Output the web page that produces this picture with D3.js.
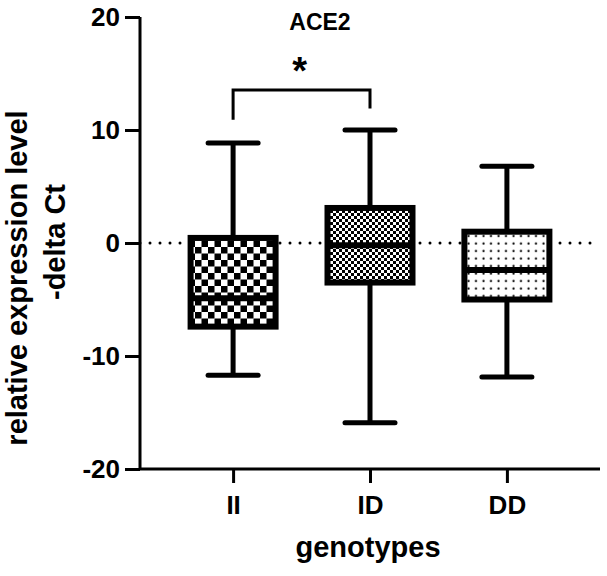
<!DOCTYPE html>
<html>
<head>
<meta charset="utf-8">
<script src="https://cdn.jsdelivr.net/npm/d3@7"></script>
<style>
  body { margin: 0; background: #fff; }
  svg { display: block; font-family: "Liberation Sans", Arial, sans-serif; font-weight: bold; }
</style>
</head>
<body>
<div id="chart"></div>
<script>
// data
const genotypes = ["II", "ID", "DD"];
const whiskerMax = [8.85, 10.0, 6.8];
const upperQ = [0.45, 3.1, 1.0];
const medians = [-4.9, -0.2, -2.4];
const lowerQ = [-7.4, -3.5, -5.0];
const whiskerMin = [-11.7, -15.9, -11.85];
const yTicks = [-20, -10, 0, 10, 20];
const patterns = ["checkBig", "checkSmall", "dots"];

const width = 607, height = 576;
const svg = d3.select("#chart").append("svg")
  .attr("width", width)
  .attr("height", height);

const x = d3.scalePoint().domain(genotypes).range([140, 600]).padding(0.68);
const y = d3.scaleLinear().domain([-20, 20]).range([469, 17]);

// fill patterns
const defs = svg.append("defs");
const p1 = defs.append("pattern").attr("id", "checkBig")
  .attr("patternUnits", "userSpaceOnUse").attr("width", 13).attr("height", 13);
p1.append("rect").attr("width", 13).attr("height", 13).attr("fill", "#fff");
p1.append("rect").attr("width", 6.5).attr("height", 6.5).attr("fill", "#000");
p1.append("rect").attr("x", 6.5).attr("y", 6.5).attr("width", 6.5).attr("height", 6.5).attr("fill", "#000");

const p2 = defs.append("pattern").attr("id", "checkSmall")
  .attr("patternUnits", "userSpaceOnUse").attr("width", 6).attr("height", 6);
p2.append("rect").attr("width", 6).attr("height", 6).attr("fill", "#fff");
p2.append("rect").attr("width", 3).attr("height", 3).attr("fill", "#000");
p2.append("rect").attr("x", 3).attr("y", 3).attr("width", 3).attr("height", 3).attr("fill", "#000");

const p3 = defs.append("pattern").attr("id", "dots")
  .attr("patternUnits", "userSpaceOnUse").attr("width", 7.5).attr("height", 7.5);
p3.append("rect").attr("width", 7.5).attr("height", 7.5).attr("fill", "#fff");
p3.append("circle").attr("cx", 3.5).attr("cy", 3.5).attr("r", 1.1).attr("fill", "#000");

// zero line
svg.append("line")
  .attr("x1", 140).attr("x2", 600)
  .attr("y1", y(0)).attr("y2", y(0))
  .attr("stroke", "#000").attr("stroke-width", 3)
  .attr("stroke-linecap", "round")
  .attr("stroke-dasharray", "0,10");

// axes
const yAxis = svg.append("g")
  .attr("transform", "translate(140,0)")
  .call(d3.axisLeft(y).tickValues(yTicks).tickFormat(d => String(d)).tickSize(15).tickPadding(5));
const xAxis = svg.append("g")
  .attr("transform", `translate(0,${y(-20)})`)
  .call(d3.axisBottom(x).tickSize(14).tickPadding(13).tickSizeOuter(0));
[yAxis, xAxis].forEach(g => {
  g.select(".domain").attr("stroke", "#000").attr("stroke-width", 3);
  g.selectAll(".tick line").attr("stroke", "#000").attr("stroke-width", 3);
  g.selectAll(".tick text").attr("fill", "#000")
    .style("font-size", "26px").style("font-weight", "bold")
    .style("font-family", "'Liberation Sans', Arial, sans-serif");
});
yAxis.select(".domain").attr("d", `M0,${y(20)}V${y(-20)}`);
xAxis.select(".domain").attr("d", `M140,0H600`);

// boxes
const half = 42.5, capHalf = 25;
genotypes.forEach((g, i) => {
  const cx = x(g);
  const grp = svg.append("g");
  grp.append("line")
    .attr("x1", cx).attr("x2", cx)
    .attr("y1", y(whiskerMax[i])).attr("y2", y(whiskerMin[i]))
    .attr("stroke", "#000").attr("stroke-width", 5);
  grp.selectAll(".cap").data([whiskerMax[i], whiskerMin[i]]).join("line")
    .attr("x1", cx - capHalf).attr("x2", cx + capHalf)
    .attr("y1", d => y(d)).attr("y2", d => y(d))
    .attr("stroke", "#000").attr("stroke-width", 5)
    .attr("stroke-linecap", "round");
  grp.append("rect")
    .attr("x", cx - half).attr("width", half * 2)
    .attr("y", y(upperQ[i])).attr("height", y(lowerQ[i]) - y(upperQ[i]))
    .attr("fill", `url(#${patterns[i]})`)
    .attr("stroke", "#000").attr("stroke-width", 6);
  grp.append("line")
    .attr("x1", cx - half).attr("x2", cx + half)
    .attr("y1", y(medians[i])).attr("y2", y(medians[i]))
    .attr("stroke", "#000").attr("stroke-width", 6);
});

// significance bracket
const bx1 = x("II"), bx2 = x("ID");
svg.append("path")
  .attr("d", `M${bx1},${y(10.9)}V${y(13.55)}H${bx2}V${y(11.9)}`)
  .attr("fill", "none").attr("stroke", "#000").attr("stroke-width", 3);
svg.append("text")
  .attr("x", (bx1 + bx2) / 2 - 2).attr("y", 84)
  .attr("text-anchor", "middle")
  .style("font-size", "38px")
  .text("*");

// title
svg.append("text")
  .attr("x", 320).attr("y", 30)
  .attr("text-anchor", "middle")
  .style("font-size", "23px")
  .text("ACE2");

// axis titles
svg.append("text")
  .attr("transform", "translate(27,278) rotate(-90)")
  .attr("text-anchor", "middle")
  .style("font-size", "29px")
  .text("relative expression level");
svg.append("text")
  .attr("transform", "translate(65,242) rotate(-90)")
  .attr("text-anchor", "middle")
  .style("font-size", "29px")
  .text("-delta Ct");
svg.append("text")
  .attr("x", 368).attr("y", 557)
  .attr("text-anchor", "middle")
  .style("font-size", "29px")
  .text("genotypes");
</script>
</body>
</html>
